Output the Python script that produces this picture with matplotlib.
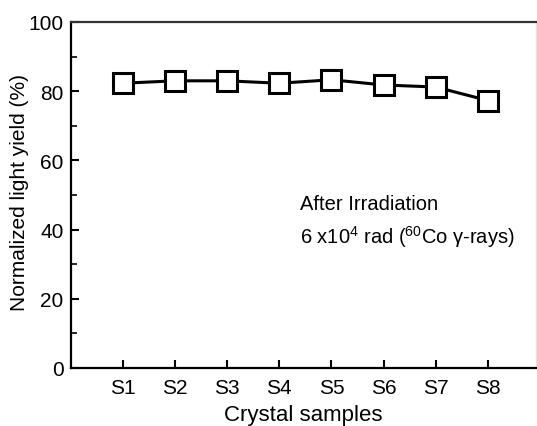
import matplotlib
matplotlib.use("Agg")
import matplotlib.pyplot as plt
from matplotlib.ticker import MultipleLocator

plt.rcParams['font.family'] = ['Liberation Sans', 'DejaVu Sans']
plt.rcParams['mathtext.fontset'] = 'custom'
plt.rcParams['mathtext.rm'] = 'Liberation Sans'
plt.rcParams['mathtext.it'] = 'Liberation Sans:italic'
plt.rcParams['mathtext.bf'] = 'Liberation Sans:bold'

samples = ['S1', 'S2', 'S3', 'S4', 'S5', 'S6', 'S7', 'S8']
light_yield = [82.3, 83.0, 83.0, 82.3, 83.3, 81.8, 81.2, 77.3]
y_ticks = [0, 20, 40, 60, 80, 100]

fig = plt.figure(figsize=(5.37, 4.27), dpi=100)
ax = fig.add_axes([70.5/537, 58/427, (535.5-70.5)/537, 346/427])

x = list(range(1, len(samples) + 1))
ax.plot(x, light_yield, color='black', lw=2.2, marker='s', ms=14.5,
        mfc='white', mec='black', mew=2.2, clip_on=False, zorder=3)

ax.set_xlim(0, 8.91)
ax.set_ylim(0, 100)
ax.set_xticks(x)
ax.set_xticklabels(samples)
ax.set_yticks(y_ticks)
ax.yaxis.set_minor_locator(MultipleLocator(10))
ax.tick_params(axis='both', which='major', direction='in', length=6, width=1.5,
               labelsize=15)
ax.tick_params(axis='x', which='major', pad=7)
ax.tick_params(axis='y', which='major', pad=5)
ax.tick_params(axis='y', which='minor', direction='in', length=4, width=1.2)
for s in ax.spines.values():
    s.set_linewidth(1.6)
ax.spines['right'].set_color('#e4e4e4')
ax.spines['right'].set_linewidth(1.0)
ax.spines['top'].set_color('#333333')

ax.set_xlabel('Crystal samples', fontsize=16, labelpad=5)
ax.set_ylabel('Normalized light yield (%)', fontsize=15, va='center')
ax.yaxis.set_label_coords((20 - 70.5) / 465, (369 - 192.5) / 346)

ax.text(4.4, 47.5, 'After Irradiation', fontsize=14.5, ha='left', va='center')
ax.text(4.4, 38.2, r'6 x10$^{4}$ rad ($^{60}$Co γ-rays)', fontsize=14.5,
        ha='left', va='center')

fig.savefig('out.png', dpi=100)
